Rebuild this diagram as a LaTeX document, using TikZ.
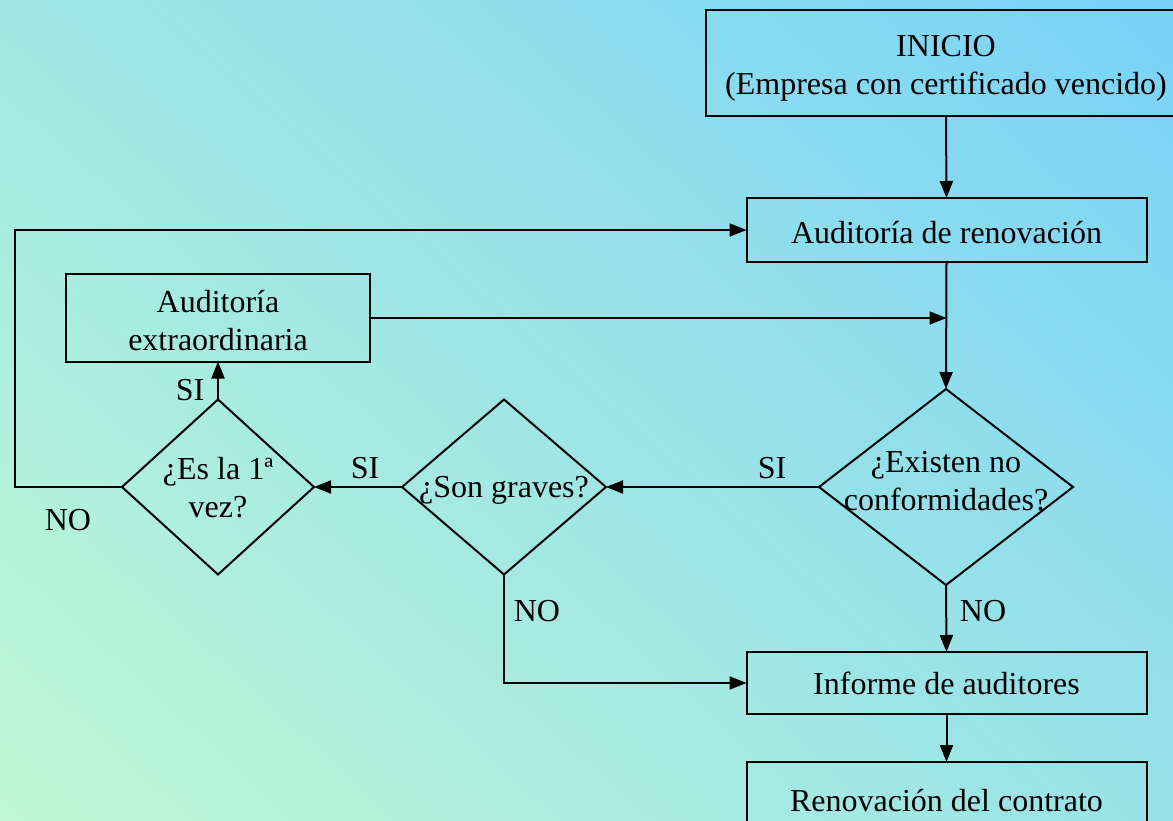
\documentclass[tikz,border=0pt]{standalone}
\usepackage{fontspec}
\setmainfont{Liberation Serif}
\usetikzlibrary{arrows.meta,shapes.geometric,shadings}
\definecolor{bgUL}{RGB}{160,231,228}
\definecolor{bgUR}{RGB}{120,210,248}
\definecolor{bgLL}{RGB}{192,248,212}
\definecolor{bgLR}{RGB}{152,226,232}
\begin{document}
\begin{tikzpicture}[x=1pt,y=-1pt,
  every node/.style={font=\fontsize{32}{38}\selectfont, text=black},
  line/.style={line width=2pt, draw=black},
  arr/.style={line, -{Triangle[length=17pt,width=13pt]}},
  box/.style={rectangle, line, inner sep=0pt, outer sep=0pt},
  dec/.style={diamond, line, inner sep=0pt, outer sep=0pt},
  txt/.style={align=center, inner sep=0pt},
  lbl/.style={inner sep=0pt}]

% background
\shade[upper left=bgUL, upper right=bgUR, lower left=bgLL, lower right=bgLR]
  (0,0) rectangle (1173,821);
\useasboundingbox (0,0) rectangle (1173,821);

% process boxes (y grows downwards, so a text offset of +n moves it n pt down)
\node[box, minimum width=480, minimum height=106] (inicio) at (946,63) {};
\node[txt] (inicio-t) at ([shift={(0,5)}]inicio) {INICIO\\(Empresa con certificado vencido)};
\node[box, minimum width=400, minimum height=64] (audren) at (946.5,230) {};
\node[txt] (audren-t) at ([shift={(0,3)}]audren) {Auditoría de renovación};
\node[box, minimum width=304, minimum height=87] (extra) at (218,318) {};
\node[txt] (extra-t) at ([shift={(0,2.5)}]extra) {Auditoría\\extraordinaria};
\node[box, minimum width=400, minimum height=62] (informe) at (946.5,683) {};
\node[txt] (informe-t) at ([shift={(0,0.5)}]informe) {Informe de auditores};
\node[box, minimum width=400, minimum height=72] (renov) at (946.5,798) {};
\node[txt] (renov-t) at ([shift={(0,3)}]renov) {Renovación del contrato};

% decisions
\node[dec, minimum width=254, minimum height=196] (exist) at (946,487) {};
\node[txt] (exist-t) at ([shift={(0,-6)}]exist) {¿Existen no\\conformidades?};
\node[dec, minimum width=204, minimum height=175] (graves) at (504,487) {};
\node[txt] (graves-t) at ([shift={(0,3)}]graves) {¿Son graves?};
\node[dec, minimum width=192, minimum height=175] (vez) at (218,487) {};
\node[txt] (vez-t) at ([shift={(0,1)}]vez) {¿Es la 1ª\\vez?};

\coordinate (loopL) at (15,487);

% connectors
\draw[arr] (inicio.south) -- (audren.north);
\draw[arr] (audren.south) -- (exist.north);
\draw[arr] (extra.east) -- (extra.east -| audren.south);
\draw[arr] (exist.west) -- (graves.east);
\draw[arr] (graves.west) -- (vez.east);
\draw[arr] (vez.north) -- (extra.south);
\draw[arr] (vez.west) -- (loopL) |- (audren.west);
\draw[arr] (graves.south) |- (informe.west);
\draw[arr] (exist.south) -- (informe.north);
\draw[arr] (informe.south) -- (renov.north);

% branch labels
\node[lbl] (l1) at (772,468) {SI};
\node[lbl] (l2) at (365,468) {SI};
\node[lbl] (l3) at (190,390) {SI};
\node[lbl] (l4) at (68,520) {NO};
\node[lbl] (l5) at (537,611) {NO};
\node[lbl] (l6) at (983,611) {NO};
\end{tikzpicture}
\end{document}
